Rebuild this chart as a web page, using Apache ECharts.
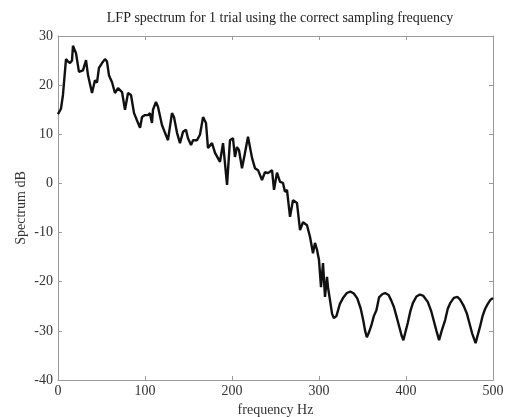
<!DOCTYPE html>
<html>
<head>
<meta charset="utf-8">
<script src="https://cdn.jsdelivr.net/npm/echarts@6/dist/echarts.min.js"></script>
<style>
html,body{margin:0;padding:0;background:#fff;}
#chart{width:506px;height:417px;}
</style>
</head>
<body>
<div id="chart"></div>
<script>
var titleText = 'LFP spectrum for 1 trial using the correct sampling frequency';
var xName = 'frequency Hz';
var yName = 'Spectrum dB';
var xTicks = [0, 100, 200, 300, 400, 500];
var yTicks = [-40, -30, -20, -10, 0, 10, 20, 30];

var freq = [0,3.4,5.7,9.2,11.5,13.8,16.1,17.2,20.7,24.1,28.7,32.2,34.5,39.1,42.5,44.8,47.1,50.6,54.0,56.3,58.6,59.8,62.1,65.5,69.0,73.6,77.0,80.5,83.9,87.4,92.0,94.3,96.6,100,103.4,105.7,108,109.2,112.6,114.9,119.5,123,126.4,131,133.3,136.8,140.2,143.7,147.1,149.4,152.9,155.2,159.8,163.2,166.7,170.1,172.4,177,180.5,186.2,189.7,194.3,197.7,201.1,203.4,205.7,208,211.5,214.9,218.4,223,226.4,229.9,234.5,237.9,241.4,246,248.3,251.7,255.2,258.6,260.9,263.2,266.7,270.1,274.7,278.2,281.6,286.2,289.7,293.1,295.4,297.7,300,302.3,304.6,306.9,309.2,310.3,312.6,315,317,320,324,328,332,336,340,344,348,351,353,355,357,360,363,366,369,373,376,378,380,383,386,389,392,395,397,399,402,405,408,412,416,420,425,429,432,435,438,441,445,448,451,455,459,462,466,470,473,476,480,483,485,488,491,494,497,500];
var spectrum = [14.1,15.2,18,25.3,24.8,24.5,25,28,26.5,22.7,23,25.1,22,18.4,21,20.5,23.5,24.5,25.3,24.8,22,21.5,20.6,18.4,19.4,18.6,15,18.4,18,14.3,12.3,11.3,13.5,13.9,13.9,14.3,12.3,15,16.6,15.6,11.9,10.3,8.8,14.3,13.5,10.3,8.2,10.5,10.9,9.2,7.8,8.8,8.8,9.9,13.5,12.3,7.2,8.2,6.2,4.4,8.2,-0.3,8.8,9.2,5.4,7.4,6.8,3.1,6.2,9.5,5.2,3.1,2.7,0.7,2.3,2.1,2.7,-1.3,2.2,0.3,0.1,-1.7,-1.3,-6.8,-3.4,-4,-9.5,-7.9,-8.5,-10.9,-14.2,-12.1,-13.5,-15.6,-21.1,-16.2,-23.1,-19,-21.1,-23.7,-26.5,-27.4,-27,-24.5,-23.2,-22.3,-22,-22.4,-23.4,-25.5,-28,-30,-31.3,-30.5,-29,-27,-25.8,-23.2,-22.5,-22.3,-22.0,-22.7,-23.8,-25.1,-27,-29,-31,-31.9,-30.5,-28.4,-26,-24.3,-23,-22.6,-22.9,-24.1,-26,-28,-30,-31.9,-30,-27.8,-25.5,-24.3,-23.3,-23.1,-23.6,-24.8,-26.5,-28.5,-30.5,-32.5,-30.5,-29.2,-27,-25.5,-24.5,-23.7,-23.3];

var data = freq.map(function (f, i) { return [f, spectrum[i]]; });

var chart = echarts.init(document.getElementById('chart'), null, {renderer: 'canvas'});
var font = 'Liberation Serif';
var axisColor = '#9a9a9a';
var labelColor = '#333';

function xAxisCfg(pos, showLabel) {
  return {
    type: 'value', position: pos, min: xTicks[0], max: xTicks[xTicks.length - 1],
    interval: xTicks[1] - xTicks[0],
    name: showLabel ? xName : '', nameLocation: 'middle', nameGap: 22,
    nameTextStyle: {fontFamily: font, fontSize: 14, color: labelColor},
    axisLine: {show: true, onZero: false, lineStyle: {color: axisColor, width: 1}},
    axisTick: {show: true, inside: true, length: 4, lineStyle: {color: axisColor}},
    axisLabel: {show: showLabel, fontFamily: font, fontSize: 14, color: labelColor, margin: 4},
    splitLine: {show: false}
  };
}
function yAxisCfg(pos, showLabel) {
  return {
    type: 'value', position: pos, min: yTicks[0], max: yTicks[yTicks.length - 1],
    interval: yTicks[1] - yTicks[0],
    name: showLabel ? yName : '', nameLocation: 'middle', nameGap: 30, nameMoveOverlap: false,
    nameTextStyle: {fontFamily: font, fontSize: 14, color: labelColor},
    axisLine: {show: true, onZero: false, lineStyle: {color: axisColor, width: 1}},
    axisTick: {show: true, inside: true, length: 4, lineStyle: {color: axisColor}},
    axisLabel: {show: showLabel, fontFamily: font, fontSize: 14, color: labelColor, margin: 5},
    splitLine: {show: false}
  };
}

chart.setOption({
  animation: false,
  backgroundColor: '#fff',
  title: {
    text: titleText, left: 275, textAlign: 'center', top: 6,
    textStyle: {fontFamily: font, fontSize: 14, fontWeight: 'normal', color: '#222'}
  },
  grid: {left: 58, right: 13, top: 36, bottom: 37, containLabel: false, outerBoundsMode: 'none'},
  xAxis: [xAxisCfg('bottom', true), xAxisCfg('top', false)],
  yAxis: [yAxisCfg('left', true), yAxisCfg('right', false)],
  series: [{
    type: 'line', data: data, xAxisIndex: 0, yAxisIndex: 0,
    showSymbol: false, smooth: false,
    lineStyle: {color: '#111', width: 2.4}
  }]
});
</script>
</body>
</html>
